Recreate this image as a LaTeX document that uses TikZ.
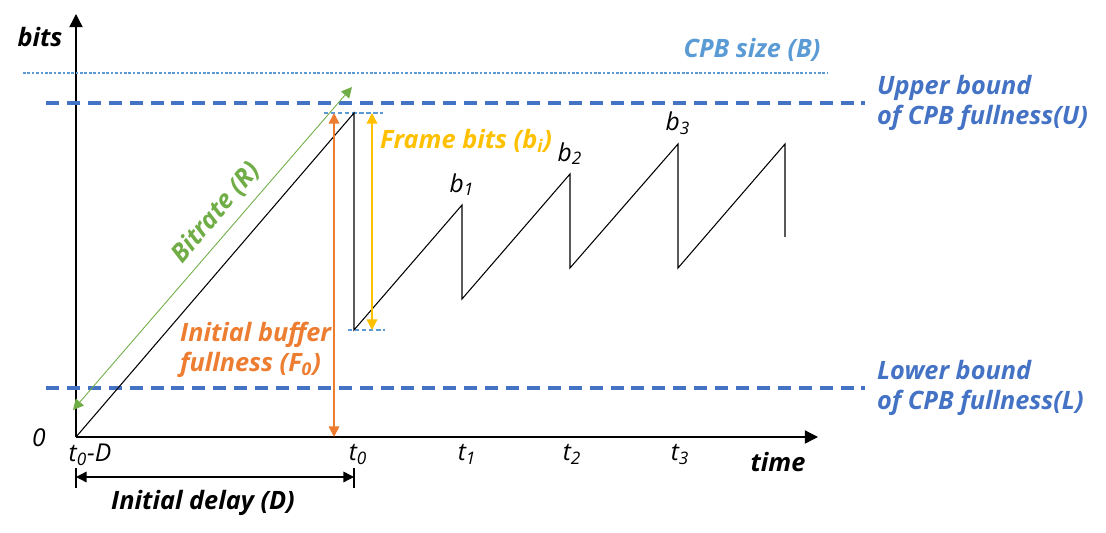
\documentclass[tikz,border=0pt]{standalone}
\usepackage{fontspec}
\setmainfont{Open Sans}
\usetikzlibrary{arrows.meta,positioning,calc}

\definecolor{cpbblue}{HTML}{4472C4}
\definecolor{sizeblue}{HTML}{5B9BD5}
\definecolor{fillorange}{HTML}{ED7D31}
\definecolor{bitsyellow}{HTML}{FFC000}
\definecolor{rategreen}{HTML}{70AD47}

\tikzset{
    lbl/.style={font=\fontsize{14.4}{17}\selectfont\bfseries\itshape, inner sep=1pt},
    tlbl/.style={font=\fontsize{14}{17}\selectfont\itshape, inner sep=1pt},
    axis/.style={line width=0.8pt, -{Triangle[length=7.5pt,width=7.5pt]}},
    bound/.style={cpbblue, line width=1.9pt, dash pattern=on 7.4pt off 4.5pt},
    sizeline/.style={sizeblue, line width=0.6pt, dash pattern=on 1.5pt off 1pt},
    refline/.style={sizeblue, line width=0.6pt, dash pattern=on 2.5pt off 1.5pt},
    dimarrow/.style={line width=0.8pt, {Triangle[length=6pt,width=6pt]}-{Triangle[length=6pt,width=6pt]}}
}

\begin{document}
\begin{tikzpicture}[x=0.02cm,y=-0.02cm]
    \useasboundingbox (0,0) rectangle (1106,533);

    \coordinate (o) at (76,437);
    \coordinate (ytop) at (76,14);
    \coordinate (xend) at (818,437);

    \coordinate (s0) at (76,437);
    \coordinate (s1) at (354,113);
    \coordinate (s2) at (354,330);
    \coordinate (s3) at (462,205);
    \coordinate (s4) at (462,299);
    \coordinate (s5) at (570,174);
    \coordinate (s6) at (570,268);
    \coordinate (s7) at (678,144);
    \coordinate (s8) at (678,268);
    \coordinate (s9) at (785,144);
    \coordinate (s10) at (785,237);

    \coordinate (b1) at (23,73);
    \coordinate (b2) at (828,73);
    \coordinate (u1) at (46,103);
    \coordinate (u2) at (865,103);
    \coordinate (l1) at (46,388);
    \coordinate (l2) at (865,388);

    \coordinate (f1) at (334,113);
    \coordinate (f2) at (334,437);
    \coordinate (y1) at (372,113);
    \coordinate (y2) at (372,330);
    \coordinate (g1) at (73,410);
    \coordinate (g2) at (352,87);
    \coordinate (d1) at (76,477);
    \coordinate (d2) at (354,477);

    \draw[axis] (o) -- (ytop);
    \draw[axis] (o) -- (xend);

    \draw[sizeline] (b1) -- (b2);
    \draw[bound] (u1) -- (u2);
    \draw[bound] (l1) -- (l2);
    \draw[refline] ($(s1)+(-30,0)$) -- ($(s1)+(29,0)$);
    \draw[refline] ($(s2)+(-6,0)$) -- ($(s2)+(31,0)$);

    \draw[line width=0.6pt] (s0) -- (s1) -- (s2) -- (s3) -- (s4) -- (s5)
        -- (s6) -- (s7) -- (s8) -- (s9) -- (s10);

    \draw[fillorange, line width=0.9pt, {Triangle[length=6pt,width=6pt]}-{Triangle[length=6pt,width=6pt]}] (f1) -- (f2);
    \draw[bitsyellow, line width=0.9pt, {Triangle[length=6pt,width=6pt]}-{Triangle[length=6pt,width=6pt]}] (y1) -- (y2);
    \draw[rategreen, line width=0.5pt, {Triangle[length=6pt,width=6pt]}-{Triangle[length=6pt,width=6pt]}] (g1) -- (g2);

    \draw[dimarrow] (d1) -- (d2);
    \draw[line width=0.6pt] ($(d1)+(0,-9)$) -- ($(d1)+(0,11)$);
    \draw[line width=0.6pt] ($(d2)+(0,-9)$) -- ($(d2)+(0,11)$);

    \node[lbl] (bits) at (40,37) {bits};
    \node[tlbl] (zero) at (39,438) {0};
    \node[tlbl, anchor=north] (t0d) at (90,442) {t\textsubscript{0}-D};
    \node[tlbl, anchor=north] (t0) at (358,442) {t\textsubscript{0}};
    \node[tlbl, anchor=north] (t1) at (467,442) {t\textsubscript{1}};
    \node[tlbl, anchor=north] (t2) at (572,442) {t\textsubscript{2}};
    \node[tlbl, anchor=north] (t3) at (680,442) {t\textsubscript{3}};
    \node[lbl] (time) at (778,462) {time};
    \node[lbl] (delay) at (203,503) {Initial delay (D)};

    \node[lbl, sizeblue] (size) at (752,50) {CPB size (B)};
    \node[lbl, cpbblue, anchor=west, align=left] (upper) at ($(u2)+(10,0)$) {Upper bound\\of CPB fullness(U)};
    \node[lbl, cpbblue, anchor=west, align=left] (lower) at ($(l2)+(10,0)$) {Lower bound\\of CPB fullness(L)};

    \node[lbl, bitsyellow, anchor=west] (frame) at (378,141) {Frame bits (b\textsubscript{i})};
    \node[lbl, rategreen, rotate=49.5] (rate) at (216,213) {Bitrate (R)};
    \node[lbl, fillorange, anchor=west, align=left] (fill) at (178,350) {Initial buffer\\fullness (F\textsubscript{0})};

    \node[tlbl, above=4pt of s3] (lb1) {b\textsubscript{1}};
    \node[tlbl, above=4pt of s5] (lb2) {b\textsubscript{2}};
    \node[tlbl, above=4pt of s7] (lb3) {b\textsubscript{3}};
\end{tikzpicture}
\end{document}
